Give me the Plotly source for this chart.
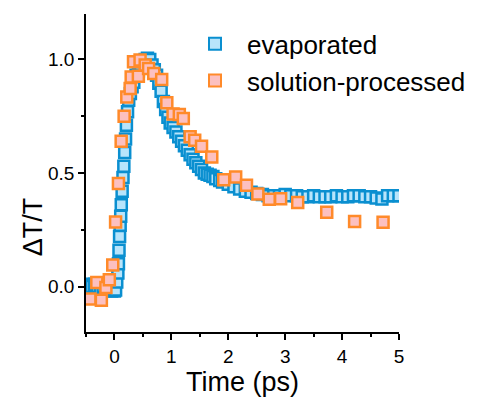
import plotly.graph_objects as go

# evaporated
evap_x = [-0.5, -0.45, -0.4, -0.35, -0.3, -0.25, -0.2, -0.15, -0.1, -0.05, 0.0, 0.02,
          0.04, 0.06, 0.07, 0.08, 0.09, 0.1, 0.11, 0.12, 0.135, 0.15, 0.165, 0.18, 0.195,
          0.21, 0.23, 0.25, 0.28, 0.31, 0.34, 0.38, 0.42, 0.46, 0.5, 0.54, 0.58, 0.62,
          0.66, 0.7, 0.74, 0.78, 0.82, 0.86, 0.9, 0.94, 0.98, 1.03, 1.08, 1.13, 1.18,
          1.23, 1.28, 1.33, 1.38, 1.43, 1.48, 1.53, 1.58, 1.63, 1.68, 1.73, 1.78, 1.85,
          1.9, 2.0, 2.1, 2.2, 2.3, 2.4, 2.5, 2.6, 2.7, 2.8, 2.9, 3.0, 3.1, 3.2, 3.3, 3.4,
          3.5, 3.6, 3.7, 3.8, 3.9, 4.0, 4.1, 4.2, 4.3, 4.4, 4.5, 4.6, 4.7, 4.8, 4.9, 5.0]
evap_y = [0.0, 0.01, 0.0, 0.01, 0.0, -0.01, 0.0, -0.01, -0.01, -0.02, -0.02, -0.015,
          0.02, 0.06, 0.10, 0.16, 0.22, 0.27, 0.31, 0.36, 0.42, 0.48, 0.53, 0.59, 0.65,
          0.71, 0.77, 0.82, 0.85, 0.88, 0.90, 0.93, 0.95, 0.975, 0.99, 1.0, 1.005, 1.0,
          0.975, 0.955, 0.93, 0.895, 0.86, 0.815, 0.78, 0.745, 0.72, 0.70, 0.68, 0.66, 0.64,
          0.62, 0.60, 0.58, 0.56, 0.545, 0.53, 0.515, 0.50, 0.495, 0.49, 0.485, 0.475, 0.467,
          0.46, 0.45, 0.44, 0.43, 0.42, 0.415, 0.41, 0.405, 0.40, 0.40, 0.40, 0.405, 0.40, 0.40, 0.395, 0.395,
          0.40, 0.395, 0.395, 0.395, 0.40, 0.395, 0.395, 0.40, 0.40, 0.395, 0.395, 0.39, 0.385, 0.40, 0.40, 0.40]

# solution-processed
sol_x = [-0.43, -0.31, -0.23, -0.15, -0.09, -0.03, 0.02, 0.07, 0.118, 0.17, 0.217, 0.276,
         0.294, 0.335, 0.42, 0.45, 0.54, 0.6, 0.69, 0.83, 0.92, 1.03, 1.14, 1.21, 1.33,
         1.41, 1.53, 1.71, 1.92, 2.13, 2.32, 2.52, 2.72, 2.92, 3.22, 3.73, 4.22, 4.72]
sol_y = [-0.055, 0.018, -0.06, -0.004, 0.03, 0.095, 0.284, 0.454, 0.64, 0.75, 0.835, 0.872,
         0.923, 0.99, 0.926, 0.997, 0.975, 0.96, 0.938, 0.912, 0.809, 0.76, 0.758, 0.74, 0.66,
         0.644, 0.618, 0.57, 0.47, 0.482, 0.446, 0.408, 0.384, 0.387, 0.37, 0.327, 0.287, 0.283]

x_ticks = [0, 1, 2, 3, 4, 5]
y_ticks = [0.0, 0.5, 1.0]
y_tick_labels = ["0.0", "0.5", "1.0"]
x_title = "Time (ps)"
y_title = "ΔT/T"

FONT = "Arial, Liberation Sans"

fig = go.Figure()
fig.add_trace(go.Scatter(
    x=evap_x, y=evap_y, mode="markers", name="evaporated",
    marker=dict(symbol="square", size=11, color="#b8e4fb",
                line=dict(color="#0a8fd0", width=2.5))))
fig.add_trace(go.Scatter(
    x=sol_x, y=sol_y, mode="markers", name="solution-processed",
    marker=dict(symbol="square", size=11, color="#fcc0c0",
                line=dict(color="#ff8a2a", width=2.5))))

axis_common = dict(showline=True, linecolor="black", linewidth=1.5, ticks="outside",
                   ticklen=6, tickwidth=1.5, tickcolor="black", showgrid=False,
                   zeroline=False, mirror=False,
                   tickfont=dict(family=FONT, size=19, color="black"))

fig.update_xaxes(range=[-0.5, 5], tickvals=x_ticks,
                 minor=dict(dtick=0.5, ticks="outside", ticklen=3, tickwidth=1.5, tickcolor="black"),
                 title=dict(text=x_title, font=dict(family=FONT, size=27, color="black"), standoff=2),
                 **axis_common)
fig.update_yaxes(range=[-0.2, 1.2], tickvals=y_ticks, ticktext=y_tick_labels,
                 minor=dict(dtick=0.25, ticks="outside", ticklen=3, tickwidth=1.5, tickcolor="black"),
                 **axis_common)

fig.add_annotation(text=y_title, xref="paper", yref="paper", x=-0.169, y=0.33,
                   xanchor="center", yanchor="middle", textangle=-90, showarrow=False,
                   font=dict(family=FONT, size=27, color="black"))

fig.update_layout(
    width=478, height=398,
    margin=dict(l=86, r=79, t=14, b=66, autoexpand=False),
    plot_bgcolor="white", paper_bgcolor="white",
    legend=dict(x=0.31, y=0.98, xanchor="left", yanchor="top",
                font=dict(family=FONT, size=26, color="black"),
                bgcolor="rgba(0,0,0,0)", tracegroupgap=0, itemsizing="constant",
                itemwidth=54),
    showlegend=True,
)

fig.write_html("out.html")
